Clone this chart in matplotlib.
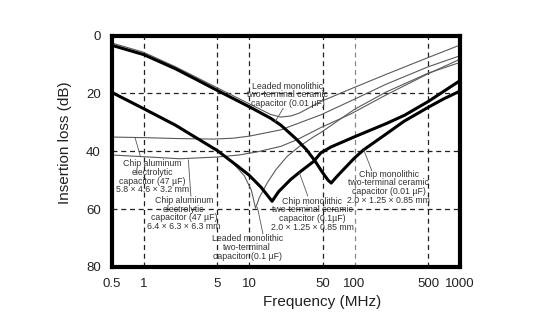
import matplotlib.pyplot as plt
from matplotlib.ticker import NullLocator

plt.rcParams['font.family'] = ['Liberation Sans', 'DejaVu Sans']

# insertion loss (dB) against frequency (MHz) for each capacitor
chip_001_f = [0.5, 1, 2, 3, 5, 10, 16, 20, 28, 35, 42, 50, 56, 60, 64, 71, 85, 100, 122, 200, 293, 500, 700, 1000]
chip_001_db = [3.4, 6.6, 11.5, 14.8, 19, 24.6, 28.6, 31, 35.8, 39.5, 43.3, 47.5, 50, 51, 49.8, 48, 45, 42.3, 39.5, 34, 29.7, 24.8, 21.9, 19.2]

chip_01_f = [0.5, 1, 2, 5, 8, 10, 13, 16.5, 19, 24.7, 30, 41, 48, 60, 100, 204, 300, 500, 700, 1000]
chip_01_db = [19.7, 25.3, 31, 39.8, 45.5, 48.3, 52.5, 57.3, 54, 49.8, 47.3, 43.5, 40.5, 38.5, 35, 30.3, 27.5, 22.8, 19.3, 15.6]

leaded_01_f = [0.5, 1, 2, 5, 7, 9, 10.5, 11.5, 12.5, 14.8, 18, 22.9, 30, 41, 48, 100, 200, 500, 1000]
leaded_01_db = [19.5, 25.1, 30.8, 39.7, 44, 48.5, 53.5, 59.7, 56, 51, 46.3, 41.8, 38.3, 35, 33.5, 25.5, 19.5, 13, 9.3]

leaded_001_f = [0.5, 1, 2, 5, 10, 16, 20, 25, 30, 48, 100, 200, 500, 1000]
leaded_001_db = [2.6, 5.8, 10.8, 18.1, 23.6, 27.3, 28.2, 27.8, 26.8, 22.8, 17.9, 13.4, 7.6, 3.3]

elec_small_f = [0.5, 1, 2, 4.6, 7, 10, 20, 48, 100, 200, 500, 1000]
elec_small_db = [35.1, 35.3, 35.6, 35.8, 35.5, 34.8, 32.6, 27.4, 22, 16.8, 10.8, 7]

elec_large_f = [0.5, 1, 2.2, 5, 8, 12, 20, 28.5, 48, 91, 200, 500, 1000]
elec_large_db = [41.3, 41.9, 42.6, 42, 41.3, 40.2, 38.3, 36, 31.8, 27.2, 20.5, 13.2, 8.2]

freq_ticks = [0.5, 1, 5, 10, 50, 100, 500, 1000]
freq_labels = ['0.5', '1', '5', '10', '50', '100', '500', '1000']
loss_ticks = [0, 20, 40, 60, 80]

fig = plt.figure(figsize=(5.48, 3.32), dpi=100)
ax = fig.add_axes([0.2044, 0.196, 0.635, 0.697])

ax.set_xscale('log')
ax.set_xlim(0.5, 1000)
ax.set_ylim(80, 0)

# dashed grid
for f in [1, 5, 10, 50, 100, 500]:
    ax.axvline(f, color='#888' if f == 100 else '#222', lw=0.9, ls=(0, (4, 3)), zorder=1)
for y in [20, 40, 60]:
    ax.axhline(y, color='#222', lw=0.9, ls=(0, (4, 3)), zorder=1)

thin = dict(color='#5a5a5a', lw=0.8, zorder=2)
ax.plot(leaded_001_f, leaded_001_db, **thin)
ax.plot(leaded_01_f, leaded_01_db, **thin)
ax.plot(elec_small_f, elec_small_db, **thin)
ax.plot(elec_large_f, elec_large_db, **thin)

thick = dict(color='black', lw=2.2, zorder=3, solid_joinstyle='round')
ax.plot(chip_001_f, chip_001_db, **thick)
ax.plot(chip_01_f, chip_01_db, **thick)

# labels with leader lines
notes = [
    ('Leaded monolithic\ntwo-terminal ceramic\ncapacitor (0.01 µF)', (23.1, 20.5), [(21, 25.2), (17.5, 30)]),
    ('Chip aluminum\nelectrolytic\ncapacitor (47 µF)\n5.8 × 4.6 × 3.2 mm', (1.2, 48.8), [(0.93, 41.8), (0.83, 35.5)]),
    ('Chip aluminum\nelectrolytic\ncapacitor (47 µF)\n6.4 × 6.3 × 6.3 mm', (2.4, 61.5), [(2.8, 55.5), (2.65, 43)]),
    ('Leaded monolithic\ntwo-terminal\ncapacitor (0.1 µF)', (9.57, 73.3), [(13.5, 68.5), (12, 59.5)]),
    ('Chip monolithic\ntwo-terminal ceramic\ncapacitor (0.1µF)\n2.0 × 1.25 × 0.85 mm', (39.6, 61.8), [(36, 55.5), (30, 47.5)]),
    ('Chip monolithic\ntwo-terminal ceramic\ncapacitor (0.01 µF)\n2.0 × 1.25 × 0.85 mm', (211, 52.4), [(145, 46.5), (122, 39.5)]),
]
for text, pos, leader in notes:
    ax.text(pos[0], pos[1], text, ha='center', va='center', fontsize=6.3,
            color='#333', linespacing=0.95, zorder=4)
    ax.plot([leader[0][0], leader[1][0]], [leader[0][1], leader[1][1]],
            color='#555', lw=0.6, zorder=4)

ax.set_xticks(freq_ticks)
ax.set_xticklabels(freq_labels)
ax.xaxis.set_minor_locator(NullLocator())
ax.set_yticks(loss_ticks)
ax.tick_params(length=0, pad=8, labelsize=9.5, colors='#222')

for s in ax.spines.values():
    s.set_linewidth(3)

ax.set_xlabel('Frequency (MHz)', fontsize=11, color='#222')
ax.set_ylabel('Insertion loss (dB)', fontsize=11, color='#222')
ax.xaxis.set_label_coords(0.603, -0.12)
ax.yaxis.set_label_coords(-0.115, 0.535)

fig.savefig('out.png', dpi=100, facecolor='white')
